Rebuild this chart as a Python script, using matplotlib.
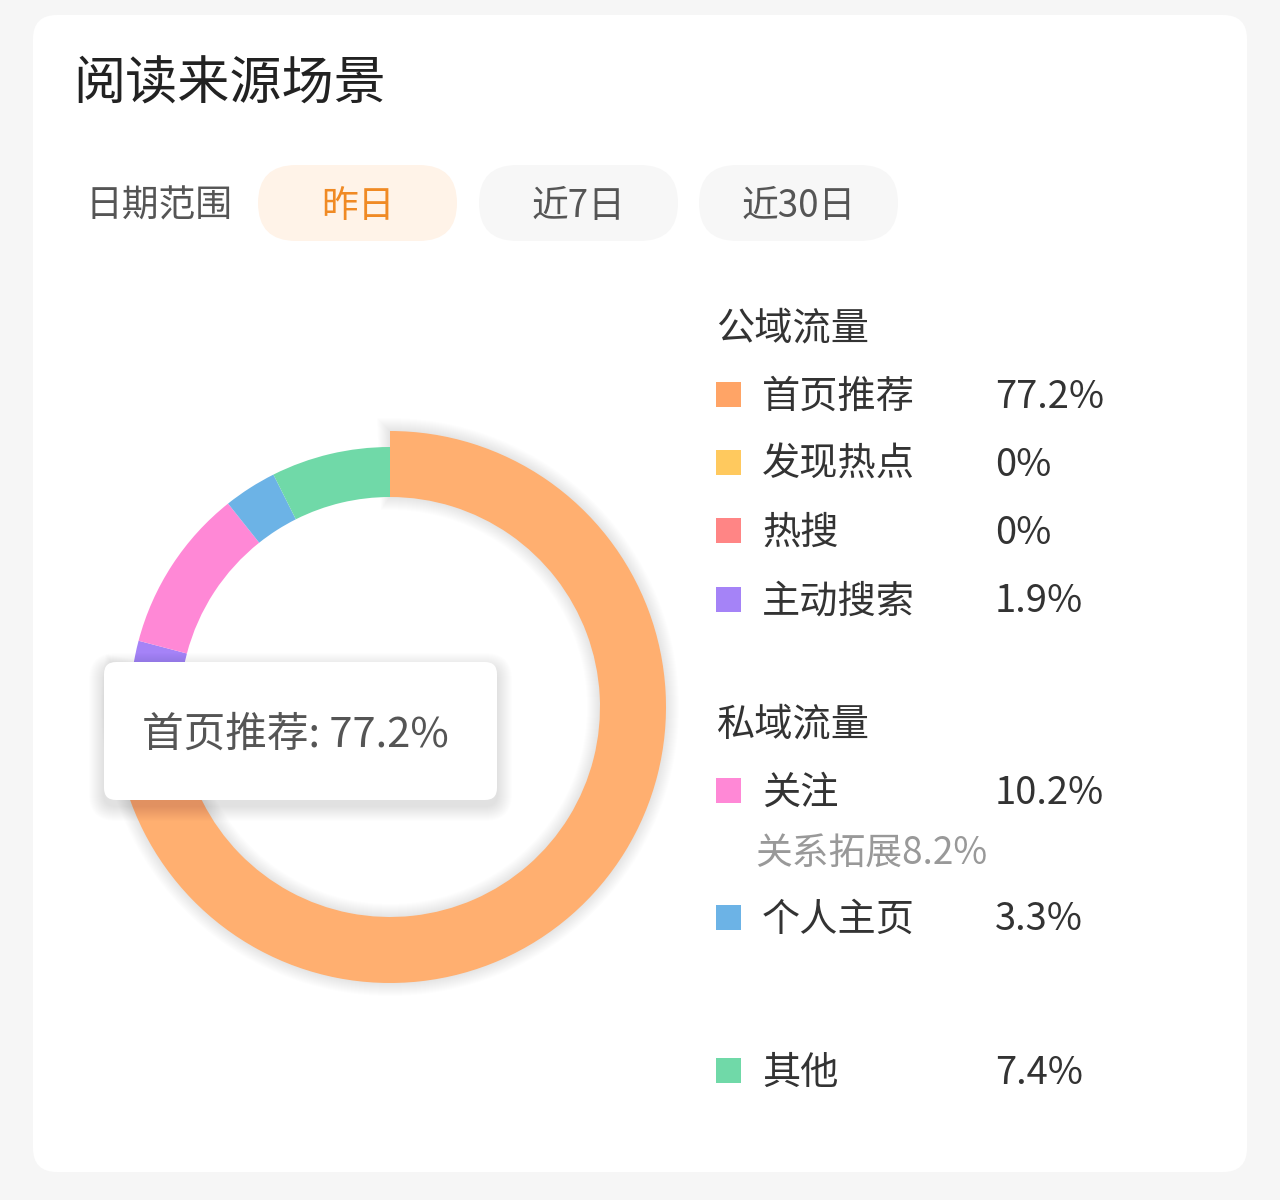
import matplotlib.pyplot as plt
from matplotlib.patches import FancyBboxPatch, Rectangle, Wedge

plt.rcParams['font.family'] = ['Noto Sans CJK SC', 'DejaVu Sans']

title = '阅读来源场景'
range_label = '日期范围'
ranges = ['昨日', '近7日', '近30日']

public_title = '公域流量'
public_labels = ['首页推荐', '发现热点', '热搜', '主动搜索']
public_values = [77.2, 0, 0, 1.9]
public_colors = ['#ffa466', '#ffc95e', '#ff8585', '#a583f7']

private_title = '私域流量'
private_labels = ['关注', '个人主页']
private_values = [10.2, 3.3]
private_colors = ['#ff88d6', '#6cb3e6']
sub_label = '关系拓展'
sub_value = 8.2

other_label = '其他'
other_value = 7.4
other_color = '#70d9a8'

tip_index = 0

pie_values = public_values + private_values + [other_value]
pie_colors = ['#ffaf70'] + public_colors[1:] + private_colors + [other_color]

fig = plt.figure(figsize=(12.8, 12), dpi=100)
fig.patch.set_facecolor('#f6f6f6')
ax = fig.add_axes([0, 0, 1, 1])

# donut, y axis runs downward so counterclock in data = clockwise on screen
cx, cy, r_out, r_in = 390, 707, 260, 210
wedges, _ = ax.pie(pie_values, colors=pie_colors, center=(cx, cy), radius=r_out,
                   startangle=270, counterclock=True,
                   wedgeprops=dict(width=r_out - r_in, linewidth=0))
for w in wedges:
    w.set_zorder(3)
hl = wedges[tip_index]
hl.set_radius(r_out + 16)
hl.set_width(r_out + 16 - r_in)
hl.set_zorder(4)

ax.set_xlim(0, 1280)
ax.set_ylim(1200, 0)
ax.set_aspect('auto')
ax.axis('off')

# soft shadow behind the highlighted slice
for i in range(1, 14):
    ax.add_patch(Wedge((cx, cy), r_out + 16 + i, hl.theta1 - 0.6 * i / 3, hl.theta2 + 0.6 * i / 3,
                       width=r_out + 16 - r_in + 2 * i, facecolor='black', alpha=0.007,
                       linewidth=0, zorder=2))

# card
ax.add_patch(FancyBboxPatch((33, 15), 1214, 1157, boxstyle='round,pad=0,rounding_size=24',
                            facecolor='white', edgecolor='none', zorder=0))

ax.text(73, 85, title, fontsize=37.5, color='#222222', fontweight='normal', va='center', ha='left')

ax.text(85, 206, range_label, fontsize=26.5, color='#555555', va='center', ha='left')
btn_x = [258, 479, 699]
for i, (lab, bx) in enumerate(zip(ranges, btn_x)):
    active = i == 0
    ax.add_patch(FancyBboxPatch((bx, 165), 199, 76, boxstyle='round,pad=0,rounding_size=38',
                                facecolor='#fff3e8' if active else '#f7f7f7',
                                edgecolor='none', zorder=1))
    ax.text(bx + 99.5, 206, lab, fontsize=26.5, color='#f08a24' if active else '#555555',
            va='center', ha='center', zorder=2)

# legend
lx, tx, px = 716, 762, 995


def legend_row(y, label, value, color):
    ax.add_patch(Rectangle((lx, y - 12.5), 25, 25, facecolor=color, edgecolor='none', zorder=2))
    ax.text(tx, y + 3, label, fontsize=27.5, color='#333333', va='center', ha='left')
    ax.text(px, y + 3, f'{value:g}%', fontsize=27.5, color='#333333', va='center', ha='left')


ax.text(lx, 329, public_title, fontsize=27.5, color='#333333', va='center', ha='left')
for y, lab, val, col in zip([394, 462, 530, 599], public_labels, public_values, public_colors):
    legend_row(y, lab, val, col)

ax.text(lx, 725, private_title, fontsize=27.5, color='#333333', va='center', ha='left')
legend_row(790, private_labels[0], private_values[0], private_colors[0])
ax.text(755, 853, f'{sub_label}{sub_value:g}%', fontsize=26.5, color='#999999', va='center', ha='left')
legend_row(917, private_labels[1], private_values[1], private_colors[1])
legend_row(1070, other_label, other_value, other_color)

# tooltip
bx, by, bw, bh = 104, 662, 393, 138
for i in range(1, 16):
    ax.add_patch(FancyBboxPatch((bx - i, by - i + 6), bw + 2 * i, bh + 2 * i,
                                boxstyle=f'round,pad=0,rounding_size={12 + i}',
                                facecolor='black', edgecolor='none', alpha=0.006, zorder=5))
ax.add_patch(FancyBboxPatch((bx, by), bw, bh, boxstyle='round,pad=0,rounding_size=12',
                            facecolor='white', edgecolor='none', zorder=6))
ax.text(142, 735, f'{public_labels[tip_index]}: {public_values[tip_index]:g}%', fontsize=30,
        color='#555555', va='center', ha='left', zorder=7)

fig.savefig('out.png', dpi=100, facecolor=fig.get_facecolor())
